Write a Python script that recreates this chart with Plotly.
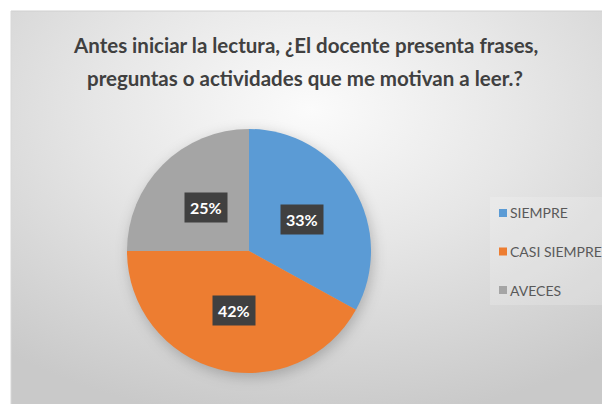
import base64
import math
import plotly.graph_objects as go

# ---- data ----
labels = ["SIEMPRE", "CASI SIEMPRE", "AVECES"]
values = [33, 42, 25]
colors = ["#5B9BD5", "#ED7D31", "#A5A5A5"]
title_lines = [
    "Antes iniciar la lectura, ¿El docente presenta frases,",
    "preguntas o actividades que me motivan a leer.?",
]

# The page body has an 8px margin, so the figure is drawn at (8, 8) in the window.
OFF = 8
WIN_W, WIN_H = 610, 404
W, H = WIN_W - OFF, WIN_H - OFF
cx, cy, R = 249, 251, 122  # pie centre / radius in window px
FONT = "Lato"


def px(x):
    return (x - OFF) / W


def py(y):
    return 1 - (y - OFF) / H


def svg_uri(svg):
    return "data:image/svg+xml;base64," + base64.b64encode(svg.encode()).decode()


fig = go.Figure(
    go.Pie(
        labels=labels,
        values=values,
        marker=dict(colors=colors, line=dict(width=0)),
        sort=False,
        direction="clockwise",
        rotation=0,
        textinfo="none",
        hoverinfo="label+percent",
        showlegend=False,
        domain=dict(x=[px(cx - R), px(cx + R)], y=[py(cy + R), py(cy - R)]),
    )
)

# background panel with radial gradient
PW, PH = WIN_W - 11, WIN_H - 11
bg = (
    f'<svg xmlns="http://www.w3.org/2000/svg" width="{PW}" height="{PH}" viewBox="0 0 {PW} {PH}" preserveAspectRatio="none">'
    '<defs><radialGradient id="g" cx="50%" cy="25%" r="80%">'
    '<stop offset="0" stop-color="#fbfbfb"/>'
    '<stop offset="0.45" stop-color="#e6e6e6"/>'
    '<stop offset="1" stop-color="#c9c9c9"/>'
    '</radialGradient></defs>'
    f'<rect width="{PW}" height="{PH}" fill="url(#g)"/></svg>'
)
fig.add_layout_image(
    dict(source=svg_uri(bg), xref="paper", yref="paper", x=px(11), y=py(11),
         sizex=PW / W, sizey=PH / H, sizing="stretch",
         xanchor="left", yanchor="top", layer="below")
)
# soft shadow behind pie
S = 2 * R + 60
sh = (
    f'<svg xmlns="http://www.w3.org/2000/svg" width="{S}" height="{S}" viewBox="0 0 {S} {S}">'
    '<defs><filter id="b" x="-50%" y="-50%" width="200%" height="200%"><feGaussianBlur stdDeviation="7"/></filter></defs>'
    f'<circle cx="{S/2 + 2}" cy="{S/2 + 4}" r="{R}" fill="rgba(0,0,0,0.22)" filter="url(#b)"/></svg>'
)
fig.add_layout_image(
    dict(source=svg_uri(sh), xref="paper", yref="paper", x=px(cx - S / 2), y=py(cy - S / 2),
         sizex=S / W, sizey=S / H, sizing="stretch",
         xanchor="left", yanchor="top", layer="below")
)
fig.add_shape(type="line", xref="paper", yref="paper", x0=px(11), x1=1, y0=py(11), y1=py(11),
              line=dict(color="#d0d0d0", width=1))
fig.add_shape(type="line", xref="paper", yref="paper", x0=px(11), x1=px(11), y0=0, y1=py(11),
              line=dict(color="#d8d8d8", width=1))

# title
for i, line in enumerate(title_lines):
    fig.add_annotation(x=px(305), y=py(45 + 33 * i), xref="paper", yref="paper",
                       text=f"<b>{line}</b>", showarrow=False,
                       font=dict(family=FONT, size=20.5, color="#404040"),
                       xanchor="center", yanchor="middle")

# data labels
total = sum(values)
cum = 0
for v in values:
    mid = (cum + v / 2) / total * 2 * math.pi
    cum += v
    lx = cx + 0.5 * R * math.sin(mid)
    ly = cy - 0.5 * R * math.cos(mid)
    fig.add_annotation(x=px(lx), y=py(ly), xref="paper", yref="paper",
                       text=f"<b>{round(v / total * 100)}%</b>", showarrow=False,
                       bgcolor="#404040", borderpad=5,
                       font=dict(family=FONT, size=16, color="white"),
                       xanchor="center", yanchor="middle")

# legend (manual)
fig.add_shape(type="rect", xref="paper", yref="paper", x0=px(490), x1=1, y0=py(305), y1=py(197),
              fillcolor="rgba(255,255,255,0.18)", line=dict(width=0), layer="below")
for i, (lab, col) in enumerate(zip(labels, colors)):
    yy = 213 + 38.5 * i
    fig.add_shape(type="rect", xref="paper", yref="paper",
                  x0=px(499), x1=px(507), y0=py(yy + 4), y1=py(yy - 4),
                  fillcolor=col, line=dict(width=0))
    fig.add_annotation(x=px(508), y=py(yy), xref="paper", yref="paper",
                       text=lab, showarrow=False,
                       font=dict(family=FONT, size=14, color="#595959"),
                       xanchor="left", yanchor="middle")

fig.update_layout(
    width=W, height=H,
    margin=dict(l=0, r=0, t=0, b=0),
    paper_bgcolor="white",
    plot_bgcolor="white",
    showlegend=False,
)

fig.write_html("out.html")
